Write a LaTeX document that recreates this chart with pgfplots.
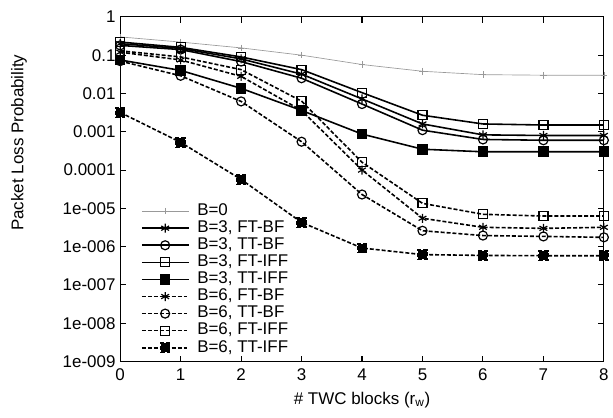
\documentclass[border=0pt]{standalone}
\usepackage{fontspec}
\setmainfont{Liberation Sans}
\usepackage{pgfplots}
\pgfplotsset{compat=1.18}

\newcommand{\chartfont}{\fontsize{12.8}{15}\selectfont}

\begin{document}
\begin{tikzpicture}
\begin{axis}[
    scale only axis,
    width=365.25pt, height=260.25pt,
    xmin=0, xmax=8,
    ymin=1e-9, ymax=1,
    ymode=log,
    xtick={0,1,2,3,4,5,6,7,8},
    ytick={1e-9,1e-8,1e-7,1e-6,1e-5,1e-4,1e-3,1e-2,1e-1,1},
    yticklabels={1e-009,1e-008,1e-007,1e-006,1e-005,0.0001,0.001,0.01,0.1,1},
    yminorticks=false,
    tick align=inside,
    major tick length=4.5pt,
    axis line style={line width=0.9pt},
    every tick/.style={black, line width=0.8pt},
    /pgf/number format/assume math mode=true,
    tick label style={font=\chartfont},
    xticklabel style={yshift=-2pt},
    label style={font=\chartfont},
    xlabel={\# TWC blocks (r\textsubscript{w})},
    ylabel={Packet Loss Probability},
    xlabel style={at={(axis description cs:0.5,-0.112)}, anchor=center},
    ylabel style={at={(axis description cs:-0.209,0.635)}, anchor=center},
    clip=false,
    legend image code/.code={
        \draw[mark repeat=2, mark phase=2, #1]
        plot coordinates {(0cm,0cm) (0.62cm,0cm) (1.24cm,0cm)};},
    legend cell align=left,
    legend style={draw=none, fill=none, font=\chartfont,
        at={(axis description cs:0.0425,0.462)}, anchor=north west,
        inner sep=0pt, row sep=0pt,
        nodes={text height=9pt, text depth=2.5pt, inner ysep=0.7pt},
        /tikz/every odd column/.style={column sep=4pt}},
    solidline/.style={black, line width=1.2pt, mark size=3.4pt,
        mark options={solid, line width=0.9pt, fill=white}},
    dashline/.style={black, line width=1.2pt, dash pattern=on 3pt off 1.5pt,
        mark size=3.4pt, mark options={solid, line width=0.9pt, fill=white}},
]

% B=0
\addplot[color=black!40, line width=0.5pt, mark=+, mark size=2.5pt]
    coordinates {(0,0.30)(1,0.22)(2,0.155)(3,0.10)(4,0.057)(5,0.038)(6,0.031)(7,0.030)(8,0.030)};

% B=3
\addplot[solidline, mark=asterisk]
    coordinates {(0,0.20)(1,0.15)(2,0.08)(3,0.032)(4,0.0072)(5,0.0016)(6,0.00083)(7,0.0008)(8,0.0008)};
\addplot[solidline, mark=o]
    coordinates {(0,0.18)(1,0.14)(2,0.068)(3,0.025)(4,0.0053)(5,0.0011)(6,0.00063)(7,0.0006)(8,0.0006)};
\addplot[solidline, mark=square]
    coordinates {(0,0.22)(1,0.16)(2,0.09)(3,0.042)(4,0.0105)(5,0.0027)(6,0.0016)(7,0.0015)(8,0.0015)};
\addplot[solidline, mark=square*, mark options={fill=black}]
    coordinates {(0,0.075)(1,0.04)(2,0.0136)(3,0.0036)(4,0.00087)(5,0.00035)(6,0.0003)(7,0.0003)(8,0.0003)};

% B=6
\addplot[dashline, mark=asterisk]
    coordinates {(0,0.12)(1,0.075)(2,0.028)(3,0.0036)(4,0.0001)(5,5.5e-6)(6,3.2e-6)(7,3.0e-6)(8,3.2e-6)};
\addplot[dashline, mark=o]
    coordinates {(0,0.07)(1,0.029)(2,0.0062)(3,0.00055)(4,2.3e-5)(5,2.6e-6)(6,1.95e-6)(7,1.85e-6)(8,1.75e-6)};
\addplot[dashline, mark=square]
    coordinates {(0,0.13)(1,0.09)(2,0.042)(3,0.0063)(4,0.00016)(5,1.35e-5)(6,7e-6)(7,6.3e-6)(8,6.3e-6)};
\addplot[dashline, mark=square*, mark options={fill=black}]
    coordinates {(0,0.0032)(1,0.00053)(2,5.7e-5)(3,4.3e-6)(4,9.2e-7)(5,6.2e-7)(6,5.9e-7)(7,5.8e-7)(8,5.8e-7)};

\legend{B=0, {B=3, FT-BF}, {B=3, TT-BF}, {B=3, FT-IFF}, {B=3, TT-IFF},
        {B=6, FT-BF}, {B=6, TT-BF}, {B=6, FT-IFF}, {B=6, TT-IFF}}
\end{axis}
% page margins as in the reference
\path ([xshift=-90.75pt,yshift=-42pt]current axis.south west)
    rectangle ([xshift=3.75pt,yshift=12.75pt]current axis.north east);
\end{tikzpicture}
\end{document}
